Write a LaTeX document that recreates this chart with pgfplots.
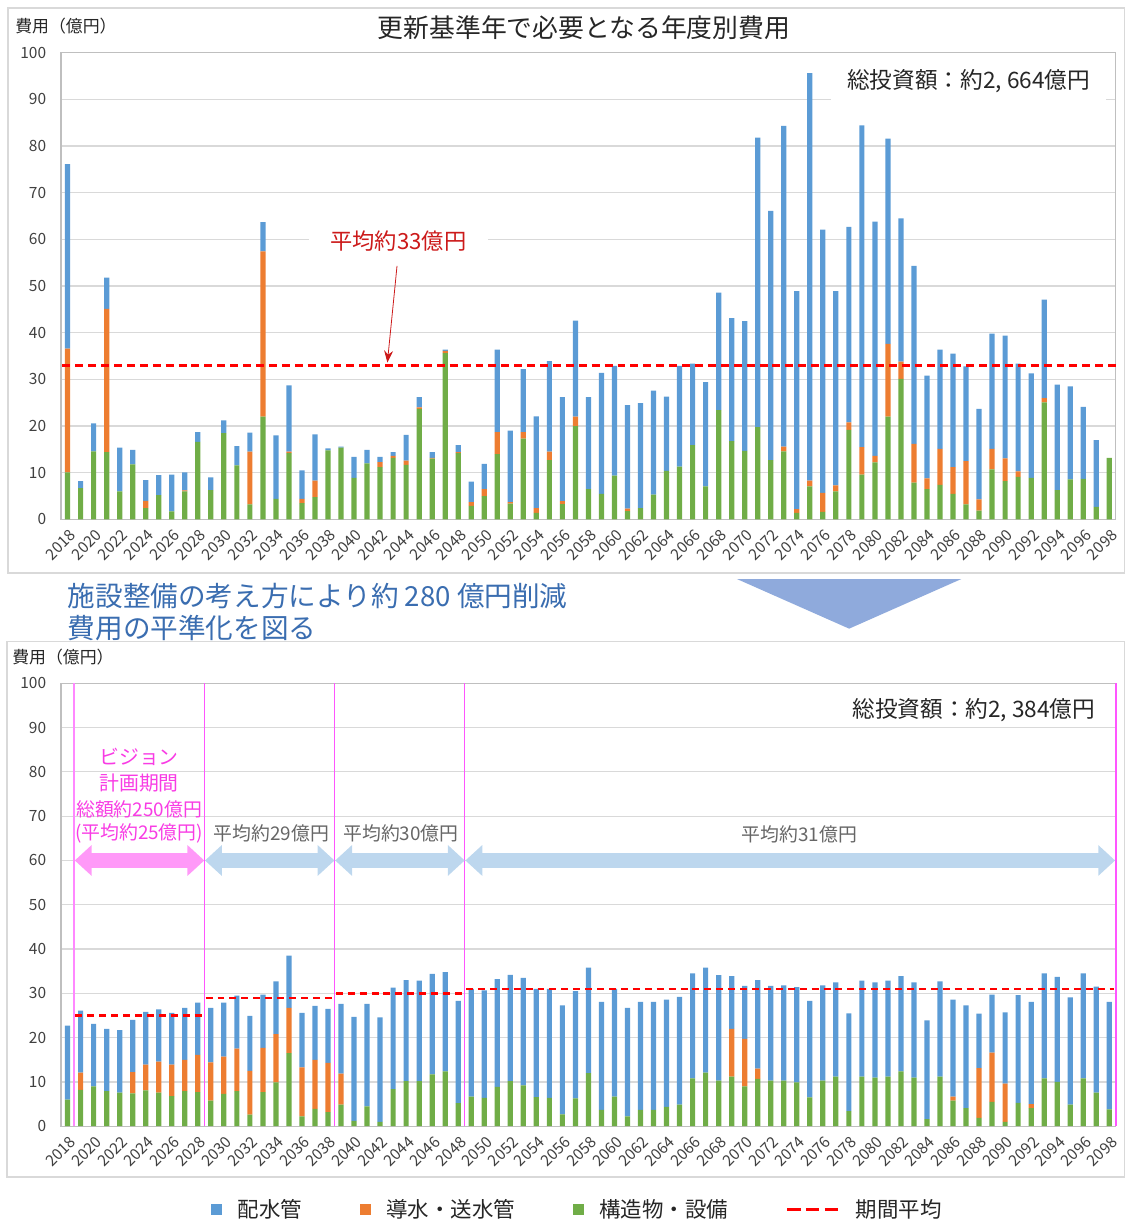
\documentclass[border=0pt]{standalone}
\usepackage{pgfplots}
\pgfplotsset{compat=1.18}
\usepackage{pgfplotstable}
\usepackage{fontspec}
\setmainfont{Noto Sans CJK JP}
\usetikzlibrary{arrows.meta}

\definecolor{cblue}{HTML}{5B9BD5}
\definecolor{corange}{HTML}{ED7D31}
\definecolor{cgreen}{HTML}{70AD47}
\definecolor{cgrid}{HTML}{D9D9D9}
\definecolor{cframe}{HTML}{D9D9D9}
\definecolor{caxis}{HTML}{BFBFBF}
\definecolor{ctick}{HTML}{404040}
\definecolor{cred}{HTML}{FF0000}
\definecolor{cdarkred}{HTML}{CC1A1A}
\definecolor{cmag}{HTML}{FF55FF}
\definecolor{cpinktext}{HTML}{F83CE4}
\definecolor{cpinkarrow}{HTML}{FF99F8}
\definecolor{clbarrow}{HTML}{BDD7EE}
\definecolor{cgraytext}{HTML}{666666}
\definecolor{cbluetext}{HTML}{3A6DB0}
\definecolor{ctri}{HTML}{8FAADC}

\pgfplotstableread{
x g o b
0 10.1 26.5 39.5
1 6.7 0 1.5
2 14.6 0 6.0
3 14.4 30.7 6.7
4 6.0 0 9.4
5 11.8 0 3.1
6 2.4 1.6 4.4
7 5.2 0 4.3
8 1.7 0 7.9
9 6.0 0.2 3.9
10 16.6 0 2.1
11 6.3 0 2.7
12 18.5 0 2.7
13 11.6 0 4.1
14 3.2 11.3 4.1
15 22.0 35.4 6.3
16 4.4 0 13.6
17 14.2 0.3 14.2
18 3.5 0.9 6.1
19 4.8 3.5 9.9
20 14.8 0 0.4
21 15.4 0 0.2
22 8.9 0 4.5
23 12.0 0 2.9
24 11.2 1.1 1.1
25 13.2 0.4 0.8
26 11.7 0.9 5.5
27 23.7 0.3 2.2
28 13.0 0.2 1.2
29 35.6 0.5 0.3
30 14.2 0.2 1.5
31 2.9 0.8 4.4
32 5.0 1.5 5.4
33 14.0 4.7 17.7
34 3.4 0.3 15.3
35 17.3 1.4 13.5
36 1.4 1.0 19.7
37 12.7 1.8 19.4
38 3.3 0.6 22.3
39 20.0 2.0 20.6
40 6.5 0 19.7
41 5.5 0 25.9
42 9.4 0 23.5
43 1.8 0.5 22.2
44 2.4 0 22.5
45 5.3 0 22.3
46 10.4 0 15.9
47 11.3 0 21.6
48 15.9 0 17.5
49 7.1 0 22.3
50 23.4 0 25.2
51 16.8 0 26.3
52 14.7 0 27.8
53 19.8 0 62.0
54 12.7 0 53.4
55 14.6 1.0 68.7
56 1.4 0.8 46.7
57 7.1 1.2 87.3
58 1.6 4.1 56.4
59 6.0 1.3 41.6
60 19.2 1.6 41.9
61 9.6 5.9 68.9
62 12.2 1.4 50.2
63 22.0 15.6 44.0
64 30.1 3.7 30.7
65 7.9 8.3 38.1
66 6.5 2.3 22.0
67 7.4 7.7 21.3
68 5.5 5.7 24.3
69 3.2 9.3 20.3
70 1.9 2.4 19.4
71 10.7 4.4 24.7
72 8.2 4.9 26.3
73 9.1 1.2 23.1
74 8.9 0 22.4
75 25.1 0.9 21.1
76 6.3 0 22.6
77 8.6 0 19.9
78 8.7 0 15.4
79 2.7 0 14.3
80 13.2 0 0
}\toptab

\pgfplotstableread{
x g o b
0 6.0 0 16.7
1 8.2 3.9 14.0
2 9.0 0 14.1
3 7.9 0 14.1
4 7.6 0 14.1
5 7.4 4.8 11.8
6 8.1 5.8 11.9
7 7.6 7.0 11.8
8 6.8 7.1 11.7
9 7.9 7.1 11.7
10 7.7 8.4 11.8
11 5.8 8.6 12.3
12 7.3 8.4 12.2
13 7.9 9.6 12.0
14 2.6 9.9 12.4
15 7.7 10.0 12.0
16 9.9 10.9 11.9
17 16.5 10.2 11.8
18 2.2 11.1 12.3
19 3.9 11.1 12.2
20 3.2 11.1 12.2
21 4.9 7.0 15.7
22 1.2 0 23.5
23 4.5 0 23.1
24 1.0 0 23.6
25 8.4 0 22.9
26 10.2 0 22.8
27 10.2 0 22.7
28 11.7 0 22.7
29 12.4 0 22.4
30 5.2 0 23.1
31 6.7 0 24.3
32 6.4 0 24.3
33 8.9 0 24.3
34 10.2 0 24.0
35 9.2 0 24.3
36 6.6 0 24.4
37 6.4 0 24.6
38 2.7 0 24.6
39 6.3 0 24.2
40 12.0 0 23.8
41 3.7 0 24.4
42 6.7 0 24.3
43 2.2 0 24.5
44 3.7 0 24.4
45 3.7 0 24.4
46 4.4 0 24.2
47 4.9 0 24.3
48 10.8 0 23.7
49 12.1 0 23.7
50 10.3 0 23.8
51 11.2 10.8 11.9
52 9.0 10.7 12.0
53 10.7 2.3 20.0
54 10.3 0 21.4
55 10.3 0 21.5
56 9.9 0 21.5
57 6.5 0 21.8
58 10.3 0 21.5
59 11.2 0 21.3
60 3.4 0 22.1
61 11.2 0 21.7
62 11.0 0 21.5
63 11.2 0 21.7
64 12.4 0 21.5
65 11.0 0 21.5
66 1.6 0 22.3
67 11.2 0 21.5
68 5.8 0.9 21.9
69 4.1 0 23.2
70 1.9 11.2 12.3
71 5.5 11.1 13.1
72 1.0 8.6 16.1
73 5.3 0 24.3
74 4.1 0.9 23.1
75 10.8 0 23.7
76 10.0 0 23.7
77 4.9 0 24.2
78 10.8 0 23.7
79 7.6 0 23.9
80 3.8 0 24.3
}\bottab

\pgfplotsset{
  barbase/.style={
    scale only axis, width=531pt,
    xmin=-0.5, xmax=80.5, ymin=0, ymax=100,
    ybar stacked, bar width=0.4,
    ytick={0,10,...,100},
    xtick={0,2,...,80},
    xticklabels={2018,2020,2022,2024,2026,2028,2030,2032,2034,2036,2038,2040,2042,2044,2046,2048,2050,2052,2054,2056,2058,2060,2062,2064,2066,2068,2070,2072,2074,2076,2078,2080,2082,2084,2086,2088,2090,2092,2094,2096,2098},
    major tick length=0pt,
    ymajorgrids, major grid style={cgrid, line width=0.6pt},
    axis line style={caxis, line width=0.6pt},
    /pgf/number format/assume math mode=true,
    tick label style={font=\fontsize{7.8}{9}\selectfont, text=ctick},
    yticklabel style={xshift=-4pt},
    xticklabel style={yshift=-3pt, xshift=0.5pt, rotate=45, anchor=north east, inner sep=1pt},
  },
  overbase/.style={
    scale only axis, width=531pt,
    xmin=-0.5, xmax=80.5, ymin=0, ymax=100,
    hide axis, clip=false,
  },
  avgline/.style={color=cred, draw=cred, line width=1.15pt, dash pattern=on 3.5pt off 2.5pt, mark=none, forget plot},
}

\begin{document}
\begin{tikzpicture}
\begin{scope}[x=0.5pt,y=-0.5pt]
\path[use as bounding box] (0,0) rectangle (1134,1228);
\draw[cframe, line width=0.7pt] (8,8) rectangle (1132,577);
\draw[cframe, line width=0.7pt] (7,646) rectangle (1132,1185);
\node[font=\fontsize{13}{15}\selectfont, text=black!85] at (588,28) {更新基準年で必要となる年度別費用};
\node[anchor=west, font=\fontsize{8.5}{10}\selectfont, text=black!85, inner xsep=0pt] at (15,26) {費用（億円）};
\fill[ctri] (742,583) -- (968,583) -- (855,633) -- cycle;
\node[anchor=west, font=\fontsize{13.9}{16}\selectfont, text=cbluetext, inner xsep=0pt] at (68,600) {施設整備の考え方により約 280 億円削減};
\node[anchor=west, font=\fontsize{13.9}{16}\selectfont, text=cbluetext, inner xsep=0pt] at (68,632) {費用の平準化を図る};
\node[anchor=west, font=\fontsize{8.5}{10}\selectfont, text=black!85, inner xsep=0pt] at (12,662) {費用（億円）};
\end{scope}

% ---------- top chart ----------
\begin{axis}[barbase, height=235pt, at={(30.75pt,-261.5pt)}, anchor=south west]
\addplot[fill=cgreen, draw=none] table[x=x, y=g] {\toptab};
\addplot[fill=corange, draw=none] table[x=x, y=o] {\toptab};
\addplot[fill=cblue, draw=none] table[x=x, y=b] {\toptab};
\end{axis}
\begin{axis}[overbase, height=235pt, at={(30.75pt,-261.5pt)}, anchor=south west]
\addplot[color=cred, line width=1.3pt, dash pattern=on 4pt off 2.5pt, mark=none] coordinates {(-0.4,33) (80.5,33)};
\node[fill=white, inner xsep=11pt, inner ysep=2pt, text=cdarkred, font=\fontsize{11.2}{13}\selectfont] at (axis cs:25.4,59.6) {平均約33億円};
\draw[cdarkred, line width=0.4pt, -{Stealth[length=6pt, width=4.5pt]}] (axis cs:25.3,54.3) -- (axis cs:24.56,33.6);
\node[fill=white, inner xsep=8pt, inner ysep=5pt, text=black!85, font=\fontsize{11.4}{13}\selectfont] at (axis cs:69.2,93.8) {総投資額：約2, 664億円};
\end{axis}

% ---------- bottom chart ----------
\begin{axis}[barbase, height=223pt, at={(30.75pt,-567pt)}, anchor=south west]
\addplot[fill=cgreen, draw=none] table[x=x, y=g] {\bottab};
\addplot[fill=corange, draw=none] table[x=x, y=o] {\bottab};
\addplot[fill=cblue, draw=none] table[x=x, y=b] {\bottab};
\end{axis}
\begin{axis}[overbase, height=223pt, at={(30.75pt,-567pt)}, anchor=south west,
  legend style={at={(0.4906,-0.188)}, anchor=center, draw=none, fill=none,
    legend columns=4, font=\fontsize{10.8}{13}\selectfont, text=black!85,
    /tikz/every odd column/.append style={column sep=6pt},
    /tikz/every even column/.append style={column sep=27pt}}]
\addlegendimage{legend image code/.code={\fill[cblue] (0pt,-2.5pt) rectangle (5pt,2.5pt);}}
\addlegendentry{配水管}
\addlegendimage{legend image code/.code={\fill[corange] (0pt,-2.5pt) rectangle (5pt,2.5pt);}}
\addlegendentry{導水・送水管}
\addlegendimage{legend image code/.code={\fill[cgreen] (0pt,-2.5pt) rectangle (5pt,2.5pt);}}
\addlegendentry{構造物・設備}
\addlegendimage{legend image code/.code={\draw[cred, line width=1.3pt, dash pattern=on 6.8pt off 2.7pt] (-2pt,0pt) -- (24pt,0pt);}}
\addlegendentry{期間平均}
\addplot[avgline] coordinates {(0.6,25) (10.4,25)};
\addplot[avgline] coordinates {(10.6,29) (20.4,29)};
\addplot[avgline] coordinates {(20.6,30) (30.4,30)};
\addplot[avgline] coordinates {(30.6,31) (80.4,31)};
% period separators
\draw[cmag!70, line width=0.9pt] (axis cs:0.5,0) -- (axis cs:0.5,100);
\draw[cmag, line width=0.45pt] (axis cs:10.5,0) -- (axis cs:10.5,100);
\draw[cmag, line width=0.45pt] (axis cs:20.5,0) -- (axis cs:20.5,100);
\draw[cmag, line width=0.45pt] (axis cs:30.5,0) -- (axis cs:30.5,100);
\draw[cmag, line width=0.8pt] (axis cs:80.5,0) -- (axis cs:80.5,100);
% arrows
\draw[cpinkarrow, line width=7.5pt, {Triangle[width=15pt,length=8.5pt]}-{Triangle[width=15pt,length=8.5pt]}] (axis cs:0.55,60) -- (axis cs:10.5,60);
\draw[clbarrow, line width=7.5pt, {Triangle[width=15pt,length=8.5pt]}-{Triangle[width=15pt,length=8.5pt]}] (axis cs:10.55,60) -- (axis cs:20.5,60);
\draw[clbarrow, line width=7.5pt, {Triangle[width=15pt,length=8.5pt]}-{Triangle[width=15pt,length=8.5pt]}] (axis cs:20.55,60) -- (axis cs:30.5,60);
\draw[clbarrow, line width=7.5pt, {Triangle[width=15pt,length=8.5pt]}-{Triangle[width=15pt,length=8.5pt]}] (axis cs:30.55,60) -- (axis cs:80.45,60);
% texts
\node[text=cpinktext, font=\fontsize{10}{12}\selectfont] at (axis cs:5.49,83.4) {ビジョン};
\node[text=cpinktext, font=\fontsize{10}{12}\selectfont] at (axis cs:5.49,77.4) {計画期間};
\node[text=cpinktext, font=\fontsize{9.5}{11}\selectfont] at (axis cs:5.49,71.5) {総額約250億円};
\node[text=cpinktext, font=\fontsize{9.5}{11}\selectfont] at (axis cs:5.49,66.1) {(平均約25億円)};
\node[text=cgraytext, font=\fontsize{9.5}{11}\selectfont] at (axis cs:15.64,66.1) {平均約29億円};
\node[text=cgraytext, font=\fontsize{9.5}{11}\selectfont] at (axis cs:25.6,66.1) {平均約30億円};
\node[text=cgraytext, font=\fontsize{9.5}{11}\selectfont] at (axis cs:56.2,65.9) {平均約31億円};
\node[text=black!85, font=\fontsize{11.4}{13}\selectfont] at (axis cs:69.6,93.9) {総投資額：約2, 384億円};
\end{axis}
\end{tikzpicture}
\end{document}
